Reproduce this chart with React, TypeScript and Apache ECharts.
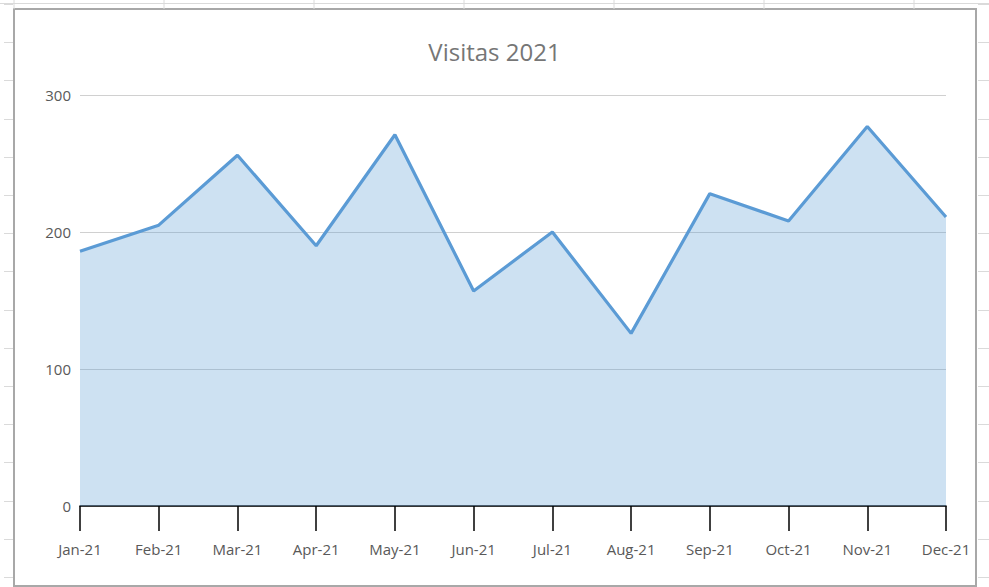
import React, { useEffect, useRef } from "react";
import * as echarts from "echarts";

const months = ["Jan-21", "Feb-21", "Mar-21", "Apr-21", "May-21", "Jun-21", "Jul-21", "Aug-21", "Sep-21", "Oct-21", "Nov-21", "Dec-21"];
const visits = [186, 205, 256, 190, 271, 157, 200, 126, 228, 208, 277, 211];
const title = "Visitas 2021";
const yMax = 300;
const yStep = 100;

const W = 989;
const H = 587;

function sheetGraphics() {
  const els: any[] = [];
  const gridColor = "#dadada";
  for (let x = 14; x < W; x += 150) {
    els.push({ type: "line", shape: { x1: x, y1: 0, x2: x, y2: 9 }, style: { stroke: gridColor, lineWidth: 1 }, silent: true });
  }
  els.push({ type: "line", shape: { x1: 0, y1: 3.5, x2: W, y2: 3.5 }, style: { stroke: gridColor, lineWidth: 1 }, silent: true });
  for (let y = 4; y < H; y += 38.2) {
    els.push({ type: "line", shape: { x1: 4, y1: Math.round(y) + 0.5, x2: 13, y2: Math.round(y) + 0.5 }, style: { stroke: gridColor, lineWidth: 1 }, silent: true });
    els.push({ type: "line", shape: { x1: 978, y1: Math.round(y) + 0.5, x2: W, y2: Math.round(y) + 0.5 }, style: { stroke: gridColor, lineWidth: 1 }, silent: true });
  }
  els.push({ type: "rect", shape: { x: 14, y: 9, width: 962, height: 577 }, style: { fill: "#ffffff", stroke: "#a8a8a8", lineWidth: 2 }, z: -10, silent: true });
  return els;
}

export default function App() {
  const ref = useRef<HTMLDivElement>(null);
  useEffect(() => {
    if (!ref.current) return;
    const chart = echarts.init(ref.current, null, { renderer: "svg" });
    chart.setOption({
      animation: false,
      backgroundColor: "#ffffff",
      title: {
        text: title,
        left: "center",
        top: 34,
        textStyle: { fontFamily: "Open Sans", fontSize: 24, fontWeight: "normal", color: "#767676" },
      },
      graphic: sheetGraphics(),
      grid: { left: 80, right: 43, top: 95, bottom: 81, containLabel: false },
      xAxis: {
        type: "category",
        data: months,
        boundaryGap: false,
        axisLine: { lineStyle: { color: "#000000", width: 1.5 } },
        axisTick: { show: true, length: 25, lineStyle: { color: "#000000", width: 1.5 } },
        axisLabel: { margin: 35, fontFamily: "Open Sans", fontSize: 15, color: "#595959" },
        splitLine: { show: false },
      },
      yAxis: {
        type: "value",
        min: 0,
        max: yMax,
        interval: yStep,
        axisLine: { show: false },
        axisTick: { show: false },
        axisLabel: { margin: 9, fontFamily: "Open Sans", fontSize: 15, color: "#595959" },
        splitLine: { lineStyle: { color: "#d0d0d0", width: 1 } },
      },
      series: [
        {
          type: "line",
          data: visits,
          symbol: "none",
          lineStyle: { color: "#5b9bd5", width: 3.2 },
          areaStyle: { color: "#5b9bd5", opacity: 0.3 },
          z: 2,
        },
      ],
    });
    return () => chart.dispose();
  }, []);
  return <div ref={ref} style={{ position: "fixed", left: 0, top: 0, width: W, height: H }} />;
}
